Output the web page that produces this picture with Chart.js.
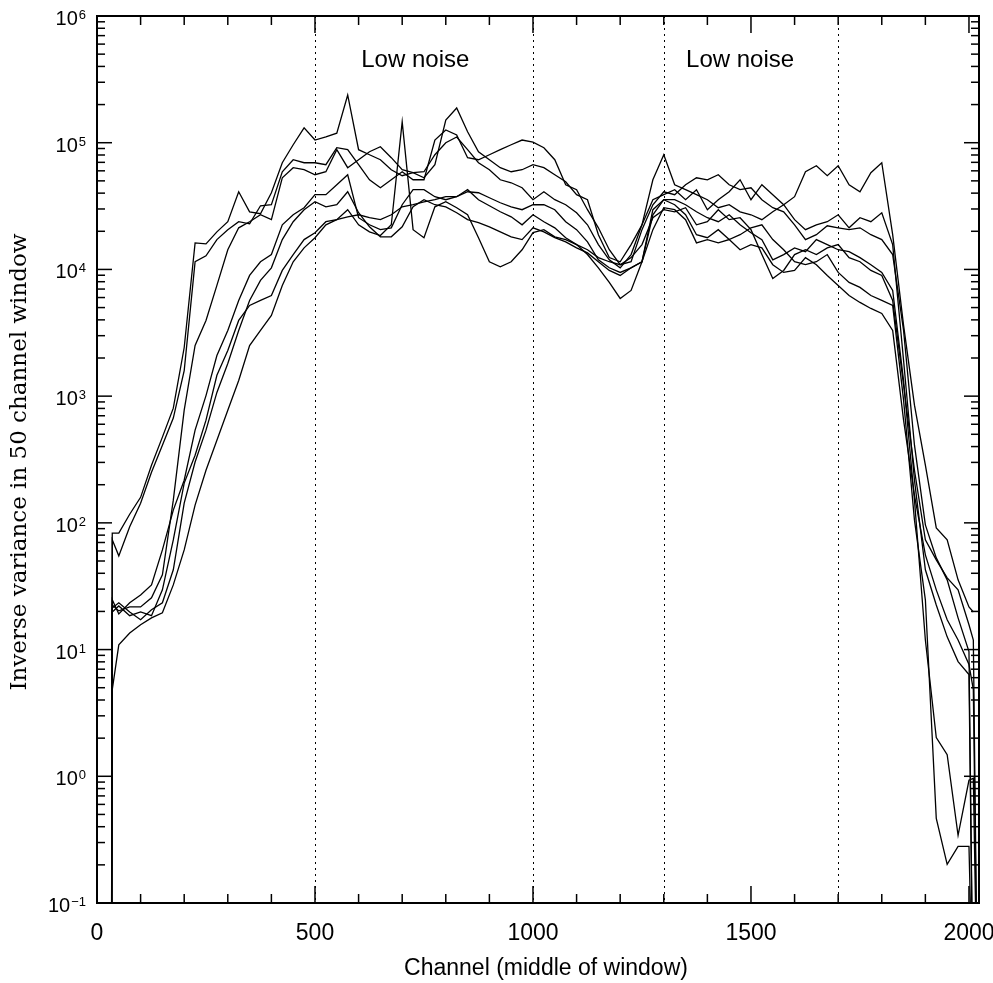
<!DOCTYPE html>
<html>
<head>
<meta charset="utf-8">
<script src="https://cdn.jsdelivr.net/npm/chart.js@4.4.1/dist/chart.umd.min.js"></script>
<style>
  html, body { margin: 0; padding: 0; background: #fff; }
  canvas { display: block; }
</style>
</head>
<body>
<canvas id="varianceChart" width="993" height="983"></canvas>
<script>
// channel grid (middle of the 50 channel window), shared by all traces
const channels = [33, 35, 50, 75, 100, 125, 150, 175, 200, 225, 250, 275, 300, 325, 350, 375, 400, 425, 450, 475, 500,
  525, 550, 575, 600, 625, 650, 675, 700, 725, 750, 775, 800, 825, 850, 875, 900, 925, 950, 975, 1000,
  1025, 1050, 1075, 1100, 1125, 1150, 1175, 1200, 1225, 1250, 1275, 1300,
  1325, 1350, 1375, 1400, 1425, 1450, 1475, 1500, 1525, 1550, 1575, 1600, 1625, 1650, 1675, 1700, 1725, 1750, 1775, 1800,
  1825, 1850, 1875, 1900, 1925, 1950, 1975, 2000, 2010, 2020];

// inverse variance per trace (0.01 = off the bottom of the plot)
const trace1 = [0.01,
  83, 83, 117, 159, 285, 475, 804, 2420, 16200, 15900, 19800, 23800, 41000, 28500, 27500, 40300, 69500, 96400, 131000, 105000,
  111000, 119000, 238000, 88100, 80400, 73400, 61200, 54900, 58000, 52900, 67100, 151000, 188000, 122000, 84900, 73400, 63500, 59000, 61200, 67100,
  63500, 55900, 49200, 38900, 35500, 18800, 12400, 11500, 15700, 22500, 51000, 80400,
  46600, 42600, 38900, 35500, 30700, 32400, 28500, 27000, 24700, 28500, 32400, 37500, 59000, 65800, 54900, 65800, 46600, 41000, 58000, 69500,
  18800, 3620, 849, 285, 91.3, 73.4, 35.5, 21.7, 19.8, null];

const trace2 = [0.01,
  73.4, 54.9, 93, 143, 251, 410, 671, 1590, 11500, 12800, 17200, 20600, 23800, 22900, 31800, 32400, 59000, 73400, 69500, 69500,
  67100, 91300, 88100, 67100, 51000, 44100, 51000, 59000, 51000, 51000, 105000, 126000, 115000, 76200, 73400, 80400, 88100, 96400, 105000, 101000,
  91300, 73400, 46600, 42600, 29600, 21300, 14300, 10900, 11500, 20600, 32400, 41000,
  38900, 46600, 52900, 51000, 55900, 46600, 42600, 44100, 35500, 30700, 28500, 22500, 17200, 18800, 22100, 21300, 20600, 21300, 18800, 17200,
  13100, 3300, 410, 96.4, 52.9, 35.5, 17.8, 9.64, 0.01, null];

const trace3 = [0.01,
  22.5, 20.2, 21.7, 21.7, 25.6, 38.9, 151, 775, 2510, 3960, 7480, 14300, 21300, 23800, 27000, 24700, 52900, 63500, 61200, 55900,
  59000, 88100, 63500, 73400, 84900, 93000, 76200, 61200, 58000, 59000, 80400, 100000, 111000, 88100, 69500, 61200, 51000, 48300, 44100, 35500,
  41000, 35500, 32400, 28000, 22500, 15700, 11900, 10300, 13100, 22500, 35500, 38900,
  42600, 35500, 42600, 29600, 35500, 41000, 51000, 35500, 46600, 38900, 32400, 24700, 20600, 22500, 23800, 27000, 21300, 25600, 23800, 28000,
  15700, 1910, 217, 42.6, 22.5, 12.6, 8.04, 6.35, 0.01, null];

const trace4 = [0.01,
  24.7, 19.1, 23.4, 27.0, 32.4, 61.2, 126, 217, 539, 1010, 2090, 3300, 5690, 8970, 11500, 13100, 22500, 27000, 30700, 38900,
  38900, 46600, 55900, 25600, 22500, 20600, 21300, 32400, 42600, 42600, 37500, 35500, 37500, 41000, 40300, 36800, 33600, 31200, 29600, 32400,
  32400, 29600, 23800, 20600, 16500, 11900, 10300, 9470, 10300, 11500, 27000, 35500,
  35500, 32400, 28500, 25600, 23800, 27000, 22500, 19500, 17200, 11900, 13100, 14800, 13800, 17200, 15700, 14300, 13800, 12400, 10900, 9470,
  6830, 1330, 151, 11.9, 2.02, 1.48, 0.342, 0.93, 0.964, 0.01];

const trace5 = [0.01,
  19.8, 22.1, 18.5, 19.8, 18.5, 29.6, 73.4, 206, 342, 646, 1460, 2290, 3960, 5200, 5690, 6230, 9820, 13100, 17200, 19500,
  23800, 24700, 29600, 22500, 19800, 18500, 22500, 146000, 20600, 17800, 31200, 34200, 30700, 27000, 17800, 11500, 10500, 11500, 14300, 19500,
  20600, 18100, 17200, 15700, 13100, 10300, 7900, 5900, 6830, 11500, 29600, 35500,
  32400, 27000, 18800, 17800, 20600, 17200, 18800, 21300, 22500, 17200, 14300, 11500, 10900, 11500, 13100, 9470, 7900, 7210, 6230, 5690,
  5200, 930, 105, 24.7, 0.466, 0.202, 0.28, 0.28, 0.01, null];

const trace6 = [0.01,
  4.83, 10.9, 13.5, 15.7, 17.8, 19.5, 32.4, 61.2, 138, 260, 449, 775, 1330, 2510, 3300, 4340, 7480, 11500, 14800, 17800,
  22500, 24700, 26000, 27000, 25600, 24700, 27000, 31200, 32400, 34200, 35500, 37500, 37500, 42600, 35500, 31800, 28500, 26000, 22500, 27000,
  23800, 21300, 17800, 15700, 14300, 12400, 11500, 10900, 12400, 15700, 25600, 29600,
  28500, 30700, 22500, 23800, 29600, 24700, 25600, 20600, 13100, 8490, 9820, 13100, 14300, 13100, 14800, 15700, 12400, 11500, 9820, 8970,
  5690, 1220, 260, 73.4, 51.0, 36.8, 29.6, 15.7, 11.9, 0.01];

const trace7 = [0.01,
  21.3, 23.4, 19.8, 17.2, 20.6, 23.4, 42.6, 143, 302, 539, 1070, 1810, 3300, 5690, 8190, 10300, 17200, 23800, 29600, 34200,
  31200, 32400, 41000, 28000, 21700, 18100, 18100, 21700, 31200, 35500, 32400, 31200, 28000, 24700, 23400, 21700, 19800, 18100, 17200, 21300,
  19800, 17800, 16500, 14800, 13500, 11500, 9820, 8970, 10300, 11500, 20600, 30700,
  29600, 24700, 16200, 17200, 16200, 17200, 14300, 15700, 14800, 10900, 9470, 9820, 12400, 10900, 8970, 7480, 6230, 5490, 4920, 4490,
  3300, 646, 165, 55.9, 29.6, 17.2, 11.9, 7.62, 4.83, 0.01];

const traces = [trace1, trace2, trace3, trace4, trace5, trace6, trace7];

const xTicks = [0, 500, 1000, 1500, 2000];
const yPowers = [-1, 0, 1, 2, 3, 4, 5, 6];
const markerChannels = [500, 1000, 1300, 1700];
const noteChannels = [730, 1475];
const noteLabels = ['Low noise', 'Low noise'];
const noteValue = 4.6e5;

const sans = '"Liberation Sans", Arial, Helvetica, sans-serif';

function line(ctx, x1, y1, x2, y2) {
    ctx.beginPath();
    ctx.moveTo(x1, y1);
    ctx.lineTo(x2, y2);
    ctx.stroke();
}

const frameAndLabels = {
    id: 'frameAndLabels',
    beforeDatasetsDraw(chart) {
        const ctx = chart.ctx;
        const area = chart.chartArea;
        const xs = chart.scales.x;
        ctx.save();
        ctx.strokeStyle = '#000';
        ctx.lineWidth = 1;
        ctx.setLineDash([2, 4]);
        markerChannels.forEach(c => {
            const px = Math.round(xs.getPixelForValue(c)) + 0.5;
            line(ctx, px, area.top, px, area.bottom);
        });
        ctx.restore();
    },
    afterDraw(chart) {
        const ctx = chart.ctx;
        const area = chart.chartArea;
        const xs = chart.scales.x;
        const ys = chart.scales.y;
        ctx.save();
        ctx.strokeStyle = '#000';
        ctx.fillStyle = '#000';

        // frame
        ctx.lineWidth = 2;
        ctx.strokeRect(area.left, area.top, area.right - area.left, area.bottom - area.top);

        // x ticks, inward on bottom and top
        ctx.lineWidth = 1.5;
        for (let c = 0; c <= xs.max; c += 100) {
            const px = xs.getPixelForValue(c);
            const len = c % 500 === 0 ? 17 : 9;
            line(ctx, px, area.bottom, px, area.bottom - len);
            line(ctx, px, area.top, px, area.top + len);
        }

        // y ticks, inward on left and right
        yPowers.forEach(p => {
            for (let k = 1; k <= 9; k++) {
                const v = k * Math.pow(10, p);
                if (v > ys.max * 1.0001) break;
                const py = ys.getPixelForValue(v);
                const len = k === 1 ? 15 : 8;
                line(ctx, area.left, py, area.left + len, py);
                line(ctx, area.right, py, area.right - len, py);
            }
        });

        // x tick labels
        ctx.font = '23px ' + sans;
        ctx.textAlign = 'center';
        ctx.textBaseline = 'alphabetic';
        xTicks.forEach(c => {
            ctx.fillText(String(c), xs.getPixelForValue(c), 940);
        });

        // y tick labels: 10 with superscript exponent
        yPowers.forEach(p => {
            const py = ys.getPixelForValue(Math.pow(10, p));
            const exp = String(p).replace('-', '\u2212');
            ctx.font = '13px ' + sans;
            ctx.textAlign = 'right';
            const ew = ctx.measureText(exp).width;
            ctx.fillText(exp, 86, py + 3);
            ctx.font = '20px ' + sans;
            ctx.fillText('10', 86 - ew - 1, py + 9);
        });

        // notes
        ctx.font = '24px ' + sans;
        ctx.textAlign = 'center';
        noteLabels.forEach((t, i) => {
            ctx.fillText(t, xs.getPixelForValue(noteChannels[i]), ys.getPixelForValue(noteValue) + 8);
        });

        // axis titles
        ctx.font = '23px ' + sans;
        ctx.fillText('Channel (middle of window)', 546, 975);

        ctx.translate(20, 462);
        ctx.rotate(-Math.PI / 2);
        ctx.font = '23px "DejaVu Serif", serif';
        ctx.textBaseline = 'middle';
        ctx.fillText('Inverse variance in 50 channel window', 0, 0);
        ctx.restore();
    }
};

new Chart(document.getElementById('varianceChart'), {
    type: 'line',
    data: {
        datasets: traces.map(t => ({
            data: channels.map((c, i) => ({ x: c, y: t[i] })),
            borderColor: '#000',
            borderWidth: 1.3,
            pointRadius: 0,
            fill: false,
            tension: 0,
            spanGaps: false
        }))
    },
    options: {
        responsive: false,
        animation: false,
        events: [],
        layout: { padding: { top: 16, right: 14, left: 0, bottom: 0 } },
        plugins: {
            legend: { display: false },
            tooltip: { enabled: false }
        },
        scales: {
            x: {
                type: 'linear',
                min: 0,
                max: 2023,
                grid: { display: false },
                border: { display: false },
                ticks: { display: false },
                afterFit(scale) { scale.height = 80; }
            },
            y: {
                type: 'logarithmic',
                min: 0.1,
                max: 1e6,
                grid: { display: false },
                border: { display: false },
                ticks: { display: false },
                afterFit(scale) { scale.width = 97; }
            }
        }
    },
    plugins: [frameAndLabels]
});
</script>
</body>
</html>
